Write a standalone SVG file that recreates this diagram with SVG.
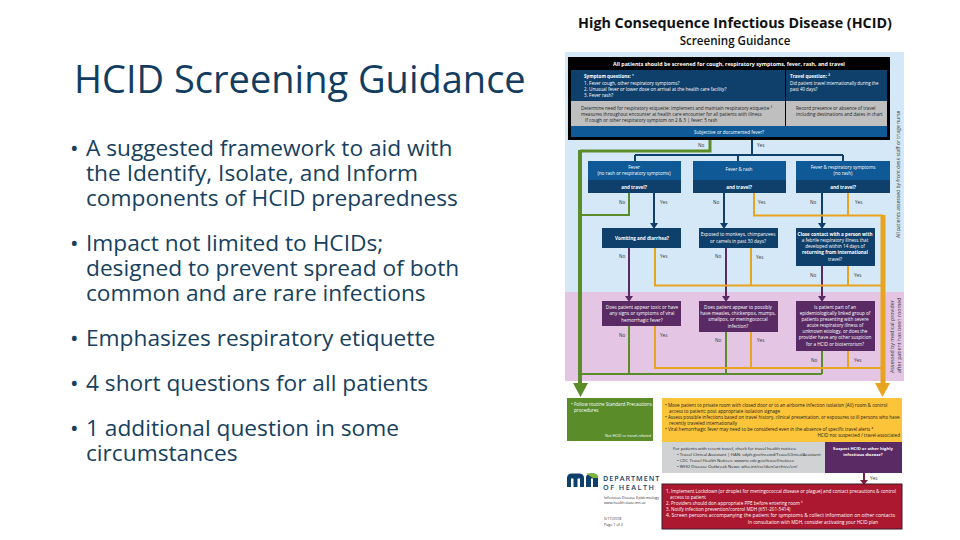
<svg xmlns="http://www.w3.org/2000/svg" width="960" height="540" viewBox="0 0 960 540">
<style>
.t{font-family:"Open Sans","Liberation Sans",sans-serif}
.title{font-size:38px;fill:#123c60}
.b{font-size:22.700px;fill:#163f60}
.d{font-family:"Open Sans","Liberation Sans",sans-serif;font-size:4.600px;fill:#fff}
.k{fill:#222}
.m{text-anchor:middle}
.h{font-weight:700}
.g{fill:none;stroke:#5b8c2a;stroke-width:2}
.o{fill:none;stroke:#e8a31f;stroke-width:2}
.n{fill:none;stroke:#0f3f6b;stroke-width:2}
.p{fill:none;stroke:#5a2a64;stroke-width:2}
.lb{font-family:"Open Sans","Liberation Sans",sans-serif;font-size:4.600px;fill:#333}
.sm{font-family:"Open Sans","Liberation Sans",sans-serif;font-size:3.700px;fill:#333}
</style>
<rect width="960" height="540" fill="#fff"/>
<rect x="565" y="52" width="339" height="240" fill="#d4e8f8"/>
<rect x="565" y="292" width="339" height="89" fill="#e4c6e4"/>
<g id="heading">
<text class="t title" x="74" y="93">HCID Screening Guidance</text>
</g>
<g id="bullets" class="t b">
<text x="70" y="156">•</text><text x="86" y="156">A suggested framework to aid with</text>
<text x="86" y="181">the Identify, Isolate, and Inform</text>
<text x="86" y="206">components of HCID preparedness</text>
<text x="70" y="251">•</text><text x="86" y="251">Impact not limited to HCIDs;</text>
<text x="86" y="276">designed to prevent spread of both</text>
<text x="86" y="301">common and are rare infections</text>
<text x="70" y="346">•</text><text x="86" y="346">Emphasizes respiratory etiquette</text>
<text x="70" y="391">•</text><text x="86" y="391">4 short questions for all patients</text>
<text x="70" y="436">•</text><text x="86" y="436">1 additional question in some</text>
<text x="86" y="461">circumstances</text>
</g>
<g id="flow-title" class="t" fill="#111" text-anchor="middle">
<text x="735" y="28" font-size="14.300" font-weight="700">High Consequence Infectious Disease (HCID)</text>
<text x="735" y="45" font-size="11.600" font-weight="600">Screening Guidance</text>
</g>
<g id="connectors">
<path class="g" style="stroke-width:3" d="M710 140V151H580"/>
<path class="g" style="stroke-width:4" d="M580 150V385"/>
<path class="n" d="M752 140V155M635 155H843M635 155V161M738 155V161M843 155V161"/>
<path class="g" d="M629 193V215H580"/>
<path class="n" d="M654 193V224M724 193V224M822 193V224"/>
<path class="o" d="M754 193V215.500H883M848 193V215"/>
<path class="p" d="M629 248V297M726 248V297M822 266V297"/>
<path class="o" d="M655 248V285.500H883M751 248V285M848 266V285"/>
<path class="g" d="M629 326V374M726 332V374M822 351V374M580 374H822"/>
<path class="o" d="M655 326V368H883M751 332V368M848 351V368"/>
<path style="stroke-width:5" class="o" d="M883 215V386"/>
<path fill="#0f3f6b" d="M650 223h8l-4 6zM720 223h8l-4 6zM818 223h8l-4 6z"/>
<path fill="#5a2a64" d="M625 296h8l-4 6zM722 296h8l-4 6zM818 296h8l-4 6z"/>
<path fill="#5b8c2a" d="M573 383h15l-7.500 14z"/>
<path fill="#e8a31f" d="M875 383h15l-7.500 14z"/>
<path class="n" style="stroke:#7a1f3d" d="M864 473V481"/>
<path fill="#7a1f3d" d="M860 480h8l-4 5z"/>
</g>
<g id="screening-box">
<rect x="568" y="57" width="322" height="83" fill="#000"/>
<rect x="571" y="70" width="214" height="31" fill="#0f3f6b"/>
<rect x="786" y="70" width="101" height="31" fill="#0f3f6b"/>
<rect x="571" y="101" width="214" height="25" fill="#bfbfbf"/>
<rect x="786" y="101" width="101" height="25" fill="#bfbfbf"/>
<rect x="571" y="126" width="316" height="11" fill="#0f5a96"/>
<text class="d m h" x="729" y="66" style="font-size:5.300px">All patients should be screened for cough, respiratory symptoms, fever, rash, and travel</text>
<text class="d h" x="584" y="78">Symptom questions: ¹</text>
<text class="d" x="584" y="85">1. Fever cough, other respiratory symptoms?</text>
<text class="d" x="584" y="91">2. Unusual fever or lower dose on arrival at the health care facility?</text>
<text class="d" x="584" y="97">3. Fever rash?</text>
<text class="d h" x="790" y="78">Travel question: ²</text>
<text class="d" x="790" y="85" style="font-size:4.400px">Did patient travel internationally during the</text>
<text class="d" x="790" y="91" style="font-size:4.400px">past 40 days?</text>
<text class="d k" x="581" y="110">Determine need for respiratory etiquette: implement and maintain respiratory etiquette ³</text>
<text class="d k" x="581" y="115.500">measures throughout encounter at health care encounter for all patients with illness</text>
<text class="d k" x="585" y="122">If cough or other respiratory symptom on 2 &amp; 3 | fever: 5 rash</text>
<text class="d k" x="796" y="110">Record presence or absence of travel</text>
<text class="d k" x="796" y="115.500">including destinations and dates in chart</text>
<text class="d m" x="729" y="134">Subjective or documented fever?</text>
</g>
<g id="no-yes-top" class="lb">
<text x="698" y="147">No</text>
<text x="757" y="147">Yes</text>
</g>
<g id="node-fever">
<rect x="588" y="161" width="93" height="19" fill="#0f5a96"/>
<rect x="588" y="180" width="93" height="13" fill="#0f3f6b"/>
<text class="d m" x="634" y="169">Fever</text>
<text class="d m" x="634" y="175">(no rash or respiratory symptoms)</text>
<text class="d m h" x="634" y="189">and travel?</text>
<text class="lb" x="619" y="204">No</text><text class="lb" x="660" y="204">Yes</text>
</g>
<g id="node-fever-rash">
<rect x="693" y="161" width="93" height="19" fill="#0f5a96"/>
<rect x="693" y="180" width="93" height="13" fill="#0f3f6b"/>
<text class="d m" x="739" y="171">Fever &amp; rash</text>
<text class="d m h" x="739" y="189">and travel?</text>
<text class="lb" x="713" y="204">No</text><text class="lb" x="758" y="204">Yes</text>
</g>
<g id="node-fever-resp">
<rect x="796" y="161" width="94" height="19" fill="#0f5a96"/>
<rect x="796" y="180" width="94" height="13" fill="#0f3f6b"/>
<text class="d m" x="843" y="169">Fever &amp; respiratory symptoms</text>
<text class="d m" x="843" y="175">(no rash)</text>
<text class="d m h" x="843" y="189">and travel?</text>
<text class="lb" x="810" y="204">No</text><text class="lb" x="855" y="204">Yes</text>
</g>
<g id="node-vomiting">
<rect x="602" y="228" width="79" height="20" fill="#0f3f6b"/>
<text class="d m h" x="642" y="240">Vomiting and diarrhea?</text>
<text class="lb" x="619" y="258">No</text><text class="lb" x="660" y="258">Yes</text>
</g>
<g id="node-exposed">
<rect x="699" y="228" width="79" height="20" fill="#0f3f6b"/>
<text class="d m" x="738" y="236">Exposed to monkeys, chimpanzees</text>
<text class="d m" x="738" y="243">or camels in past 30 days?</text>
<text class="lb" x="715" y="258">No</text><text class="lb" x="756" y="259">Yes</text>
</g>
<g id="node-contact">
<rect x="796" y="228" width="79" height="38" fill="#0f3f6b"/>
<text class="d m h" x="835" y="236">Close contact with a person with</text>
<text class="d m" x="835" y="242">a febrile respiratory illness that</text>
<text class="d m" x="835" y="248">developed within 14 days of</text>
<text class="d m h" x="835" y="254">returning from international</text>
<text class="d m" x="835" y="261">travel?</text>
<text class="lb" x="810" y="277">No</text><text class="lb" x="854" y="277">Yes</text>
</g>
<g id="node-hemorrhagic">
<rect x="602" y="301" width="79" height="25" fill="#5a2a64"/>
<text class="d m" x="642" y="309">Does patient appear toxic or have</text>
<text class="d m" x="642" y="315">any signs or symptoms of viral</text>
<text class="d m" x="642" y="322">hemorrhagic fever?</text>
<text class="lb" x="619" y="337">No</text><text class="lb" x="660" y="337">Yes</text>
</g>
<g id="node-measles">
<rect x="699" y="301" width="79" height="31" fill="#5a2a64"/>
<text class="d m" x="738" y="309">Does patient appear to possibly</text>
<text class="d m" x="738" y="315">have measles, chickenpox, mumps,</text>
<text class="d m" x="738" y="321">smallpox, or meningococcal</text>
<text class="d m" x="738" y="328">infection?</text>
<text class="lb" x="715" y="342">No</text><text class="lb" x="757" y="342">Yes</text>
</g>
<g id="node-epi">
<rect x="796" y="301" width="79" height="50" fill="#5a2a64"/>
<text class="d m" x="835" y="309">Is patient part of an</text>
<text class="d m" x="835" y="315">epidemiologically linked group of</text>
<text class="d m" x="835" y="321">patients presenting with severe</text>
<text class="d m" x="835" y="327">acute respiratory illness of</text>
<text class="d m" x="835" y="333">unknown etiology, or does the</text>
<text class="d m" x="835" y="339">provider have any other suspicion</text>
<text class="d m" x="835" y="346">for a HCID or bioterrorism?</text>
<text class="lb" x="811" y="362">No</text><text class="lb" x="854" y="362">Yes</text>
</g>
<g id="side-notes" class="lb">
<text transform="translate(900 238) rotate(-90)" style="font-size:5px">All patients assessed by front desk staff or triage nurse</text>
<text transform="translate(894 373) rotate(-90)" style="font-size:5.300px">Assessed by medical provider</text>
<text transform="translate(901 373) rotate(-90)" style="font-size:5.300px">after patient has been roomed</text>
</g>
<g id="node-standard">
<rect x="567" y="398" width="86" height="43" fill="#5b8c2a"/>
<text class="d" x="571" y="406">• Follow routine Standard Precautions</text>
<text class="d" x="574" y="412">procedures</text>
<text class="d" x="651" y="437" style="font-size:3.800px;text-anchor:end">Not HCID or travel-related</text>
</g>
<g id="node-isolate">
<rect x="662" y="398" width="240" height="44" fill="#fcc439"/>
<g class="lb" style="fill:#222">
<text x="665" y="407">• Move patient to private room with closed door or to an airborne infection isolation (AII) room &amp; control</text>
<text x="669" y="413">access to patient; post appropriate isolation signage</text>
<text x="665" y="419">• Assess possible infections based on travel history, clinical presentation, or exposures to ill persons who have</text>
<text x="669" y="425">recently traveled internationally</text>
<text x="665" y="431">• Viral hemorrhagic fever may need to be considered even in the absence of specific travel alerts ⁴</text>
<text x="900" y="437" text-anchor="end">HCID not suspected / travel-associated</text>
</g>
</g>
<g id="node-resources">
<rect x="662" y="442" width="163" height="31" fill="#d0d2d4"/>
<g class="lb" style="fill:#222;font-size:4.300px">
<text x="673" y="450">For patients with recent travel, check for travel health notices:</text>
<text x="677" y="456">• Travel Clinical Assistant | HAN: cdph.gov/ncezid/TravelClinicalAssistant</text>
<text x="677" y="462">• CDC Travel Health Notices: wwwnc.cdc.gov/travel/notices</text>
<text x="677" y="468">• WHO Disease Outbreak News: who.int/csr/don/archive/en/</text>
</g>
</g>
<g id="node-suspect">
<rect x="825" y="442" width="77" height="31" fill="#5a2a64"/>
<text class="d m h" x="863" y="450" style="font-size:4.200px">Suspect HCID or other highly</text>
<text class="d m h" x="863" y="456" style="font-size:4.200px">infectious disease?</text>
<text class="lb" x="870" y="480">Yes</text>
</g>
<g id="node-actions">
<rect x="662" y="484" width="240" height="45" fill="#ab1830" stroke="#3c1a28" stroke-width="1"/>
<text class="d" x="666" y="493">1. Implement Lockdown (or droplet for meningococcal disease or plague) and contact precautions &amp; control</text>
<text class="d" x="670" y="499">access to patient</text>
<text class="d" x="666" y="505">2. Providers should don appropriate PPE before entering room ⁵</text>
<text class="d" x="666" y="511">3. Notify infection prevention/control MDH (651-201-5414)</text>
<text class="d" x="666" y="517" style="font-size:5px">4. Screen persons accompanying the patient for symptoms &amp; collect information on other contacts</text>
<text class="d m" x="813" y="524">In consultation with MDH, consider activating your HCID plan</text>
</g>
<g id="logo">
<path d="M567 487V478Q567 473.500 572 473.500H579Q584 473.500 584 478V487H580V478.500H577.500V487H573.500V478.500H571V487Z" fill="#0f3f6b"/>
<path d="M586 487V478Q586 473.500 591 473.500H593Q598 473.500 598 478V487H593V478.500H591V487Z" fill="#0f3f6b"/>
<path d="M586 473.500H593Q598 473.500 598 478H593Z" fill="#7fb539"/>
<text class="t" x="603" y="480.500" font-size="7.200" font-weight="600" letter-spacing="1" fill="#0f3f6b">DEPARTMENT</text>
<text class="t" x="603" y="490" font-size="7.200" font-weight="600" letter-spacing="1.500" fill="#0f3f6b">OF HEALTH</text>
<text class="sm" x="604" y="499">Infectious Disease Epidemiology</text>
<text class="sm" x="604" y="504">www.health.state.mn.us</text>
<text class="sm" x="604" y="520">5/17/2018</text>
<text class="sm" x="604" y="526">Page 1 of 2</text>
</g>
</svg>
